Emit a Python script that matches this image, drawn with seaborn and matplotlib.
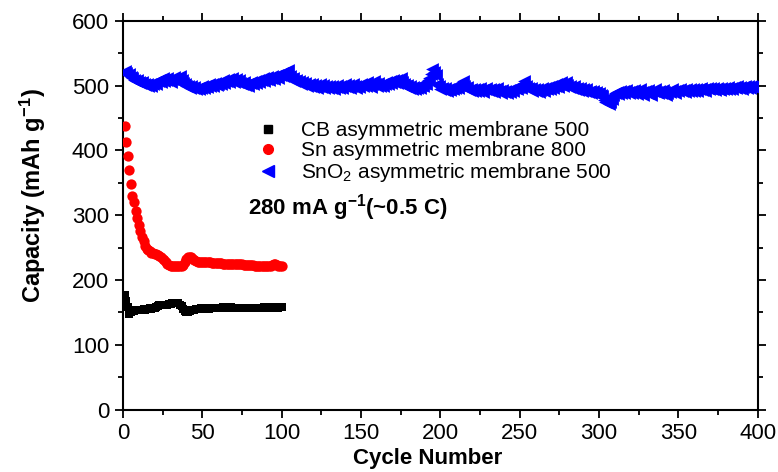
import numpy as np
import pandas as pd
import matplotlib
matplotlib.use("Agg")
import matplotlib.pyplot as plt
from matplotlib.lines import Line2D
import seaborn as sns

# ---------------- data ----------------
cb_capacity = [
    177, 168, 158, 148, 151, 153, 152, 154, 153, 153,
    154, 154, 155, 154, 155, 155, 156, 155, 156, 157,
    158, 160, 161, 162, 162, 161, 161, 162, 163, 163,
    164, 164, 165, 165, 164, 162, 159, 155, 152, 151,
    151, 152, 153, 154, 154, 155, 155, 155, 156, 155,
    155, 156, 156, 155, 156, 156, 157, 156, 156, 157,
    157, 157, 158, 158, 158, 157, 158, 158, 157, 157,
    157, 156, 157, 157, 156, 157, 157, 156, 156, 157,
    156, 156, 157, 157, 156, 157, 157, 157, 158, 158,
    157, 158, 158, 157, 158, 158, 158, 157, 158, 158,
]

sn_capacity = [
    437, 413, 392, 369, 348, 329, 320, 307, 296, 285,
    276, 267, 260, 253, 248, 246, 244, 242, 241, 240,
    240, 239, 237, 235, 233, 230, 227, 225, 223, 222,
    222, 221, 221, 221, 222, 222, 222, 223, 227, 232,
    235, 236, 235, 233, 230, 229, 228, 228, 228, 228,
    227, 227, 227, 227, 227, 226, 226, 226, 226, 226,
    226, 226, 225, 225, 225, 225, 225, 225, 224, 224,
    224, 224, 224, 224, 224, 223, 223, 223, 223, 223,
    223, 223, 222, 222, 222, 222, 222, 222, 222, 222,
    222, 222, 222, 223, 224, 224, 223, 222, 221, 221,
]

sno2_capacity = [
    523, 520, 516, 518, 513, 511, 509, 507, 508, 505,
    504, 506, 502, 501, 503, 500, 502, 499, 503, 505,
    503, 507, 509, 506, 511, 507, 509, 512, 508, 506,
    510, 513, 509, 507, 511, 515, 508, 504, 502, 500,
    499, 497, 500, 496, 498, 495, 497, 494, 497, 499,
    497, 500, 498, 502, 499, 503, 500, 504, 501, 503,
    506, 502, 508, 504, 507, 510, 505, 508, 511, 506,
    510, 506, 509, 504, 502, 505, 501, 503, 500, 504,
    506, 502, 507, 504, 509, 505, 508, 511, 507, 510,
    513, 509, 512, 515, 510, 514, 517, 512, 516, 519,
    515, 521, 517, 524, 514, 510, 512, 507, 509, 505,
    507, 503, 505, 502, 504, 500, 503, 499, 502, 498,
    501, 497, 500, 503, 498, 501, 496, 499, 497, 500,
    496, 499, 495, 498, 501, 497, 500, 496, 499, 502,
    498, 501, 497, 500, 503, 499, 496, 500, 498, 502,
    499, 503, 500, 505, 501, 498, 502, 507, 503, 500,
    504, 500, 503, 499, 502, 506, 503, 507, 504, 508,
    505, 509, 504, 507, 511, 506, 502, 499, 501, 497,
    499, 495, 498, 494, 497, 500, 497, 501, 499, 504,
    502, 508, 512, 518, 526, 521, 517, 503, 499, 495,
    497, 493, 496, 492, 495, 493, 497, 494, 496, 499,
    497, 501, 504, 507, 500, 496, 498, 493, 495, 491,
    494, 491, 495, 492, 496, 493, 490, 494, 497, 493,
    495, 491, 494, 490, 493, 496, 492, 489, 493, 490,
    492, 489, 493, 490, 494, 492, 496, 494, 498, 501,
    497, 502, 507, 500, 496, 494, 497, 492, 495, 491,
    494, 490, 493, 496, 492, 497, 494, 498, 495, 499,
    496, 500, 503, 498, 502, 505, 500, 503, 506, 501,
    498, 500, 496, 499, 494, 497, 493, 496, 492, 495,
    491, 494, 490, 492, 489, 491, 488, 490, 487, 489,
    486, 484, 478, 474, 476, 472, 475, 480, 485, 488,
    490, 487, 491, 488, 492, 489, 493, 490, 488, 492,
    489, 493, 490, 487, 491, 494, 490, 486, 491, 489,
    493, 490, 486, 491, 494, 490, 488, 492, 489, 493,
    490, 485, 489, 492, 490, 494, 491, 489, 493, 491,
    494, 491, 493, 490, 494, 492, 495, 492, 494, 491,
    495, 492, 494, 496, 493, 495, 492, 496, 494, 497,
    494, 496, 493, 497, 495, 493, 496, 494, 497, 495,
    498, 495, 497, 494, 498, 496, 499, 496, 498, 495,
    498, 500, 497, 499, 496, 500, 498, 501, 498, 500,
]

series_labels = [
    "CB asymmetric membrane 500",
    "Sn asymmetric membrane 800",
    "SnO$_2$ asymmetric membrane 500",
]
x_ticks = [0, 50, 100, 150, 200, 250, 300, 350, 400]
y_ticks = [0, 100, 200, 300, 400, 500, 600]

cb_df = pd.DataFrame({"cycle": np.arange(1, len(cb_capacity) + 1), "cap": cb_capacity})
sn_df = pd.DataFrame({"cycle": np.arange(1, len(sn_capacity) + 1), "cap": sn_capacity})
sno2_df = pd.DataFrame({"cycle": np.arange(1, len(sno2_capacity) + 1), "cap": sno2_capacity})

# ---------------- style ----------------
sns.set_style("ticks")
plt.rcParams["font.family"] = ["Liberation Sans", "DejaVu Sans"]
plt.rcParams["mathtext.fontset"] = "custom"
plt.rcParams["mathtext.rm"] = "Liberation Sans"
plt.rcParams["mathtext.it"] = "Liberation Sans:italic"
plt.rcParams["mathtext.bf"] = "Liberation Sans:bold"
plt.rcParams["text.color"] = "black"
plt.rcParams["axes.labelcolor"] = "black"
plt.rcParams["xtick.color"] = "black"
plt.rcParams["ytick.color"] = "black"

fig = plt.figure(figsize=(7.78, 4.72), dpi=100)
ax = fig.add_axes([0.158, 0.1324, 0.816, 0.8236])

sns.scatterplot(data=cb_df, x="cycle", y="cap", ax=ax, marker="s", s=40,
                color="black", linewidth=0, zorder=3)
sns.scatterplot(data=sn_df, x="cycle", y="cap", ax=ax, marker="o", s=55,
                color="#ff0000", linewidth=0, zorder=3)
sns.scatterplot(data=sno2_df, x="cycle", y="cap", ax=ax, marker="<", s=85,
                color="#0000ff", linewidth=0, zorder=3)

ax.set_xlim(0, 400)
ax.set_ylim(0, 600)
ax.set_xticks(x_ticks)
ax.set_yticks(y_ticks)
ax.set_xticks(np.arange(25, 400, 50), minor=True)
ax.set_yticks(np.arange(50, 600, 100), minor=True)

for sp in ax.spines.values():
    sp.set_linewidth(1.5)
    sp.set_color("black")
    sp.set_visible(True)

ax.tick_params(axis="both", which="major", direction="out", length=6, width=1.3,
               labelsize=16, colors="black", top=True, right=True, pad=4)
ax.tick_params(axis="both", which="minor", direction="out", length=3.5, width=1.3,
               top=True, right=True)
ax.tick_params(axis="x", labeltop=False)
ax.tick_params(axis="y", labelright=False)

ax.set_xlabel("Cycle Number", fontsize=16, fontweight="bold", color="black")
ax.set_ylabel(r"Capacity (mAh g$^{\mathbf{-1}}$)", fontsize=17, fontweight="bold",
              color="black")
ax.xaxis.set_label_coords(0.48, -0.098)
ax.yaxis.set_label_coords(-0.118, 0.55)

handles = [
    Line2D([], [], linestyle="none", marker="s", color="black", markersize=6),
    Line2D([], [], linestyle="none", marker="o", color="#ff0000", markersize=7),
    Line2D([], [], linestyle="none", marker="<", color="#0000ff", markersize=8),
]
leg = ax.legend(handles, series_labels, loc="upper left", bbox_to_anchor=(0.212, 0.742),
                frameon=False, fontsize=15, handlelength=1.0, handletextpad=1.1,
                labelspacing=0.05, borderpad=0, borderaxespad=0)
for t in leg.get_texts():
    t.set_color("black")

ax.text(0.197, 0.52, r"280 mA g$^{\mathbf{-1}}$(~0.5 C)", transform=ax.transAxes,
        fontsize=16, fontweight="bold", va="center", ha="left", color="black")

fig.savefig("out.png", dpi=100)
